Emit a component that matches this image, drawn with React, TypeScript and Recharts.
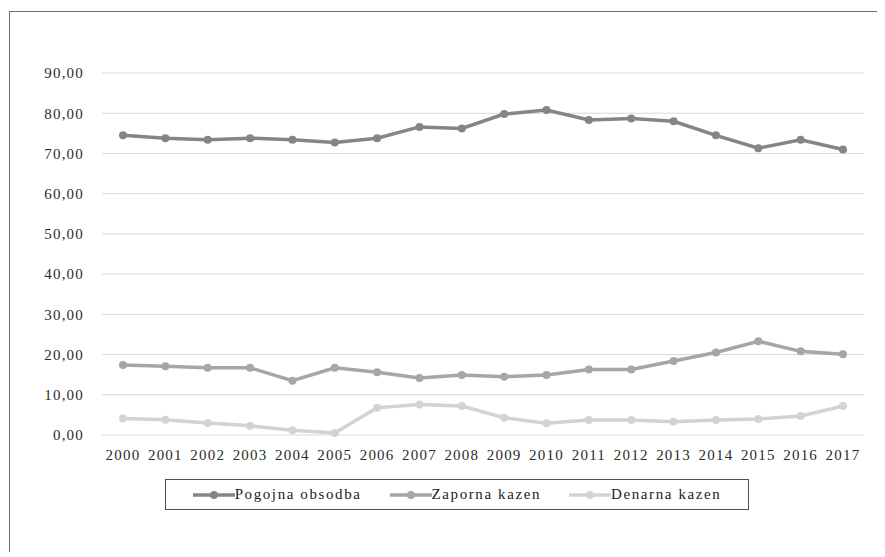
import { LineChart, Line, XAxis, YAxis, CartesianGrid, Legend } from "recharts";

const YEARS = ["2000", "2001", "2002", "2003", "2004", "2005", "2006", "2007", "2008", "2009", "2010", "2011", "2012", "2013", "2014", "2015", "2016", "2017"];

const pogojna = [74.5, 73.8, 73.4, 73.8, 73.4, 72.7, 73.8, 76.6, 76.2, 79.8, 80.8, 78.3, 78.7, 78.0, 74.5, 71.3, 73.4, 71.0];
const zaporna = [17.4, 17.1, 16.7, 16.7, 13.5, 16.7, 15.6, 14.2, 14.9, 14.5, 14.9, 16.3, 16.3, 18.4, 20.5, 23.3, 20.8, 20.1];
const denarna = [4.1, 3.8, 3.0, 2.3, 1.2, 0.5, 6.8, 7.6, 7.2, 4.3, 2.9, 3.7, 3.7, 3.3, 3.7, 4.0, 4.7, 7.2];

const Y_TICKS = [0, 10, 20, 30, 40, 50, 60, 70, 80, 90];

const SERIES = [
  { key: "pogojna", name: "Pogojna obsodba", color: "#858585" },
  { key: "zaporna", name: "Zaporna kazen", color: "#a6a6a6" },
  { key: "denarna", name: "Denarna kazen", color: "#d3d3d3" },
];

const data = YEARS.map((year, i) => ({
  year,
  pogojna: pogojna[i],
  zaporna: zaporna[i],
  denarna: denarna[i],
}));

const FONT = "'Liberation Serif', 'Times New Roman', serif";
const tickStyle = { fill: "#2b2b2b", fontSize: 15, fontFamily: FONT, letterSpacing: 1.2 };

function LegendBox() {
  return (
    <div
      style={{
        border: "1.5px solid #505050",
        height: 31,
        display: "flex",
        alignItems: "center",
        justifyContent: "center",
        gap: 28,
        fontFamily: FONT,
        fontSize: 15,
        letterSpacing: 1.6,
        color: "#222",
        boxSizing: "border-box",
      }}
    >
      {SERIES.map((s) => (
        <div key={s.key} style={{ display: "flex", alignItems: "center" }}>
          <svg width={42} height={12}>
            <line x1={0} y1={6} x2={42} y2={6} stroke={s.color} strokeWidth={3.5} />
            <circle cx={21} cy={6} r={4} fill={s.color} />
          </svg>
          <span>{s.name}</span>
        </div>
      ))}
    </div>
  );
}

export default function App() {
  return (
    <div
      style={{
        marginLeft: 1,
        marginTop: 3,
        width: 870,
        height: 540,
        borderLeft: "1px solid #6f6f6f",
        borderTop: "1px solid #6f6f6f",
        background: "#fff",
      }}
    >
      <LineChart width={870} height={540} data={data} margin={{ top: 61, right: 16, left: 0, bottom: 56 }}>
        <CartesianGrid vertical={false} stroke="#d9d9d9" strokeWidth={1} />
        <XAxis
          dataKey="year"
          axisLine={false}
          tickLine={false}
          tickSize={6}
          tickMargin={8}
          height={30}
          interval={0}
          padding={{ left: 21, right: 21 }}
          tick={tickStyle}
        />
        <YAxis
          domain={[0, 90]}
          ticks={Y_TICKS}
          axisLine={false}
          tickLine={false}
          tickSize={6}
          tickMargin={12}
          width={92}
          interval={0}
          tick={tickStyle}
          tickFormatter={(v: number) => v.toFixed(2).replace(".", ",")}
        />
        <Legend
          content={() => <LegendBox />}
          wrapperStyle={{ left: 155, top: 467, width: 584, height: 31 }}
        />
        {SERIES.map((s) => (
          <Line
            key={s.key}
            dataKey={s.key}
            name={s.name}
            stroke={s.color}
            strokeWidth={3.5}
            dot={{ r: 4, fill: s.color, stroke: s.color, strokeWidth: 0 }}
            isAnimationActive={false}
          />
        ))}
      </LineChart>
    </div>
  );
}
